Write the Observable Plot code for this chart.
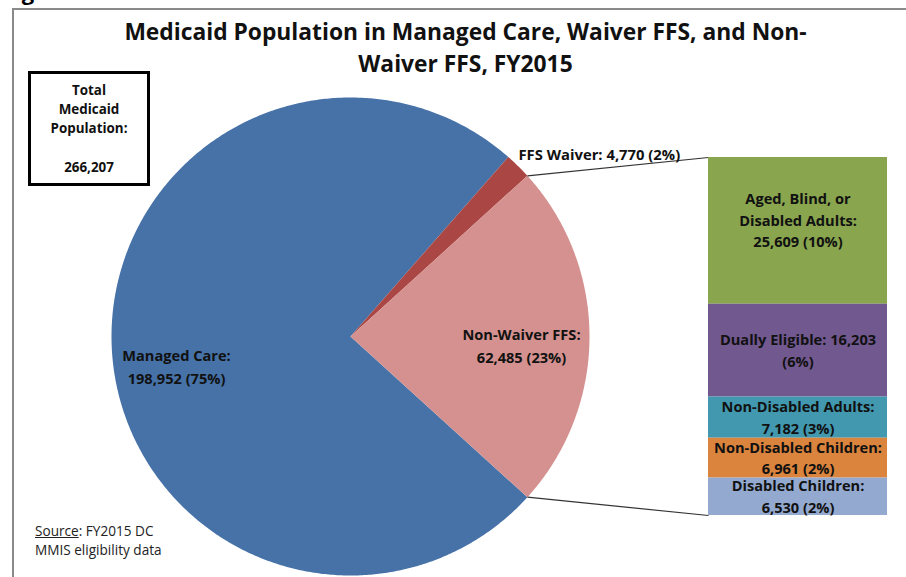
<!DOCTYPE html>
<html>
<head>
<meta charset="utf-8">
<script src="https://cdn.jsdelivr.net/npm/d3@7"></script>
<script src="https://cdn.jsdelivr.net/npm/@observablehq/plot@0.6"></script>
<style>
  html, body { margin: 0; padding: 0; background: #fff; }
  #wrap { position: relative; width: 906px; height: 577px; overflow: hidden; background: #fff; font-family: "Open Sans", Lato, sans-serif; }
  #wrap svg { position: absolute; left: 0; top: 0; background: transparent; }
  .fig { position: absolute; left: 3px; top: -21px; font-weight: bold; font-size: 22px; line-height: 24px; }
  .frame { position: absolute; left: 12px; top: 8px; width: 1000px; height: 1000px; border-left: 2px solid #8a8a8a; border-top: 2px solid #8a8a8a; box-sizing: border-box; }
  .source { position: absolute; left: 35px; top: 521px; font-size: 13.6px; line-height: 19px; color: #222; }
</style>
</head>
<body>
<div id="wrap">
  <div class="frame"></div>
  <div class="fig">Figure 1</div>
  <div class="source"><u>Source</u>: FY2015 DC<br>MMIS eligibility data</div>
</div>
<script>
// ---- Data ----
const pieNames = ["Managed Care", "FFS Waiver", "Non-Waiver FFS"];
const pieValues = [198952, 4770, 62485];
const piePercents = ["75%", "2%", "23%"];
const pieColors = ["#4672A8", "#AA4643", "#D4918F"];

const subNames = ["Aged, Blind, or\nDisabled Adults", "Dually Eligible", "Non-Disabled Adults", "Non-Disabled Children", "Disabled Children"];
const subValues = [25609, 16203, 7182, 6961, 6530];
const subPercents = ["10%", "6%", "3%", "2%", "2%"];
const subColors = ["#89A54E", "#71588F", "#4198AF", "#DB843D", "#93A9CF"];
const subBreak1 = ["\n", " ", "\n", "\n", "\n"];
const subBreak2 = [" ", "\n", " ", " ", " "];

const totalPopulation = 266207;
const titleText = "Medicaid Population in Managed Care, Waiver FFS, and Non-\nWaiver FFS, FY2015";

// ---- Layout ----
const W = 906, H = 577;
const cx = 350, cy = 336, R = 239;
const barLeft = 708, barRight = 887, barTop = 157, barBottom = 515;
const FONT = "'Open Sans', Lato, sans-serif";
const fmt = d3.format(",");

// pie geometry (angles clockwise from 12 o'clock); the split slice is centred at 3 o'clock
const total = d3.sum(pieValues);
const splitIdx = 2;
const splitAngle = pieValues[splitIdx] / total * 360;
const start = 90 + splitAngle / 2;
const slices = [];
{
  let a = start;
  for (const i of [0, 1, 2]) {
    const span = pieValues[i] / total * 360;
    slices[i] = {name: pieNames[i], a0: a, a1: a + span, color: pieColors[i]};
    a += span;
  }
}
const pt = (deg, r) => {
  const t = deg * Math.PI / 180;
  return {x: cx + r * Math.sin(t), y: cy - r * Math.cos(t)};
};
function slicePoly(s) {
  const pts = [{x: cx, y: cy}];
  const n = Math.max(4, Math.ceil((s.a1 - s.a0) / 0.5));
  for (let k = 0; k <= n; k++) pts.push(pt(s.a0 + (s.a1 - s.a0) * k / n, R));
  pts.push({x: cx, y: cy});
  return pts;
}

const split = slices[splitIdx];
const connectors = [
  {p: pt(split.a0, R), x2: barLeft, y2: barTop},
  {p: pt(split.a1, R), x2: barLeft, y2: barBottom}
];

const centerLabels = [
  {x: 176, y: 365, text: `${pieNames[0]}:\n${fmt(pieValues[0])} (${piePercents[0]})`},
  {x: 521, y: 343.5, text: `${pieNames[2]}:\n${fmt(pieValues[2])} (${piePercents[2]})`}
];
const startLabels = [
  {x: 518, y: 155, text: `${pieNames[1]}: ${fmt(pieValues[1])} (${piePercents[1]})`}
];

// ---- Plot 1: pie, connectors, title, total box ----
const identityX = {type: "linear", domain: [0, W], range: [0, W], axis: null};
const identityY = {type: "linear", domain: [0, H], range: [0, H], axis: null};

const pieMarks = slices.map(s => Plot.line(slicePoly(s), {x: "x", y: "y", fill: s.color, stroke: "none", curve: "linear"}));

const plot1 = Plot.plot({
  width: W, height: H, margin: 0,
  x: identityX, y: identityY,
  style: {fontFamily: FONT, background: "transparent", overflow: "visible"},
  marks: [
    ...pieMarks,
    Plot.link(connectors, {x1: d => d.p.x, y1: d => d.p.y, x2: "x2", y2: "y2", stroke: "#333", strokeWidth: 1.2}),
    Plot.text(centerLabels, {x: "x", y: "y", text: "text", textAnchor: "middle", fontSize: 14.6, fontWeight: "bold", fill: "#111", lineHeight: 1.55}),
    Plot.text(startLabels, {x: "x", y: "y", text: "text", textAnchor: "start", fontSize: 14.8, fontWeight: "bold", fill: "#111"}),
    Plot.text([titleText], {x: 465, y: 45, text: d => d, fontSize: 22.8, fontWeight: "bold", fill: "#111", lineHeight: 1.4}),
    Plot.rect([0], {x1: 29.5, x2: 148.5, y1: 72.5, y2: 184.5, fill: "white", stroke: "black", strokeWidth: 3}),
    Plot.text([`Total\nMedicaid\nPopulation:\n\n${fmt(totalPopulation)}`], {x: 88.5, y: 126.5, text: d => d, fontSize: 13.4, fontWeight: "bold", fill: "#111", lineHeight: 1.44})
  ]
});

// ---- Plot 2: stacked bar of non-waiver FFS breakdown ----
const subData = subNames.map((n, i) => ({
  name: n, value: subValues[i], color: subColors[i],
  label: `${n}:${subBreak1[i]}${fmt(subValues[i])}${subBreak2[i]}(${subPercents[i]})`
}));
const key = pieNames[splitIdx];
const subText = {fontSize: 14.6, fontWeight: "bold", fill: "#111", lineHeight: 1.47};
const plot2 = Plot.plot({
  width: W, height: H, margin: 0,
  x: {type: "band", domain: [key], range: [barLeft, barRight], padding: 0, axis: null},
  y: {type: "linear", domain: [0, d3.sum(subValues)], range: [barBottom, barTop], axis: null},
  style: {fontFamily: FONT, background: "transparent", overflow: "visible"},
  marks: [
    Plot.barY(subData, {x: () => key, y: "value", fill: "color", reverse: true, inset: 0}),
    // top segment's label sits above its segment's middle, as in the reference
    Plot.text(subData, Plot.stackY({x: () => key, y: "value", text: (d, i) => i === 0 ? d.label : "", reverse: true, dy: -12, ...subText})),
    Plot.text(subData, Plot.stackY({x: () => key, y: "value", text: (d, i) => i === 0 ? "" : d.label, reverse: true, dy: -1.5, ...subText}))
  ]
});

const wrap = document.getElementById("wrap");
wrap.insertBefore(plot1, wrap.querySelector(".fig"));
wrap.insertBefore(plot2, wrap.querySelector(".fig"));
</script>
</body>
</html>
